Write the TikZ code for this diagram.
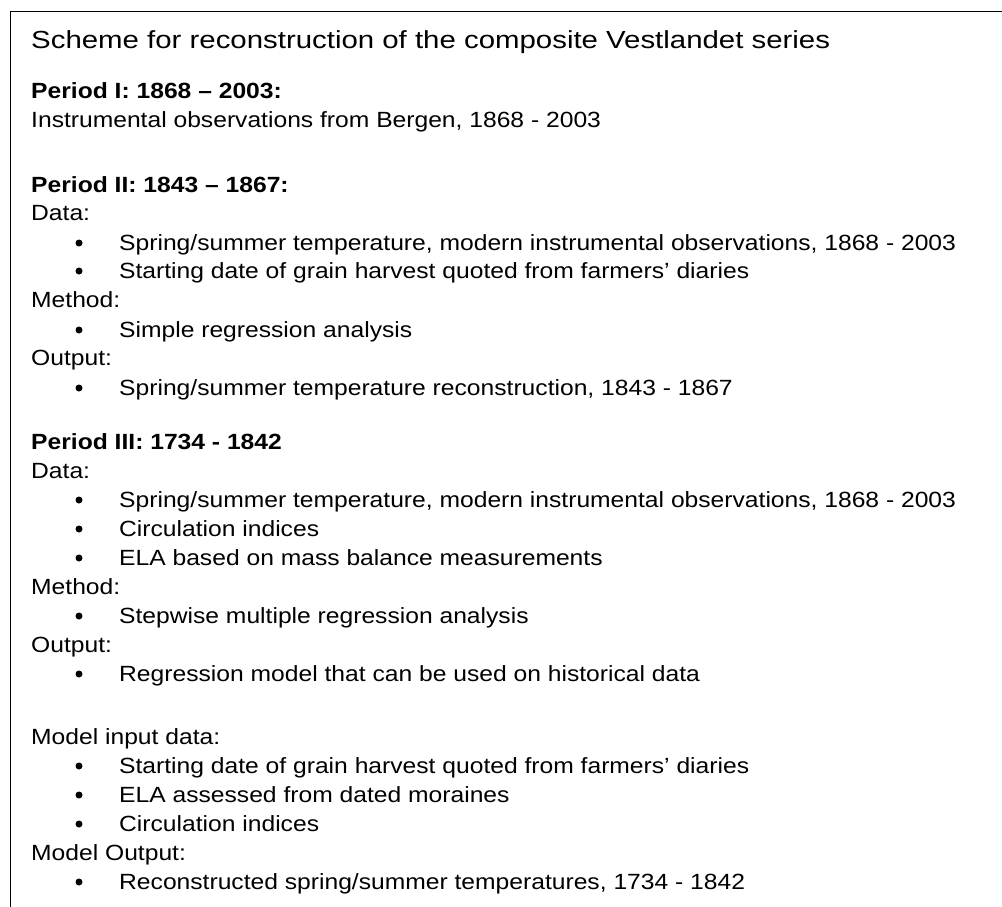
\documentclass[tikz,border=0pt]{standalone}
\usepackage{fontspec}
\setmainfont{Liberation Sans}
\newfontfamily\bodyfont[FakeStretch=1.12]{Liberation Sans}
\newfontfamily\titlefont[FakeStretch=1.19]{Liberation Sans}
\begin{document}
\begin{tikzpicture}[x=1pt,y=-1pt,
  txt/.style={anchor=base west, inner sep=0pt, font=\bodyfont\fontsize{22}{26}\selectfont},
  hd/.style={anchor=base west, inner sep=0pt, font=\bodyfont\bfseries\fontsize{22}{26}\selectfont},
  ttl/.style={anchor=base west, inner sep=0pt, font=\titlefont\fontsize{24.7}{29}\selectfont},
  bul/.style={circle, fill=black, inner sep=0pt, minimum size=7pt},
  frame/.style={line width=1.6pt}]
\useasboundingbox (0,0) rectangle (1002,907);
\draw[frame] (10.5,907) -- (10.5,11.5) -- (1002,11.5);
\def\lx{31}\def\bx{79}\def\tx{119}
\node[ttl] (title) at (\lx,49) {Scheme for reconstruction of the composite Vestlandet series};
\node[hd] (p1) at (\lx,99) {Period I: 1868 – 2003:};
\node[txt] (p1t) at (\lx,128) {Instrumental observations from Bergen, 1868 - 2003};
\node[hd] (p2) at (\lx,192) {Period II: 1843 – 1867:};
\node[txt] (p2d) at (\lx,220) {Data:};
\node[bul] (p2b1) at (\bx,243) {};
\node[txt] (p2d1) at (\tx,250) {Spring/summer temperature, modern instrumental observations, 1868 - 2003};
\node[bul] (p2b2) at (\bx,271) {};
\node[txt] (p2d2) at (\tx,278) {Starting date of grain harvest quoted from farmers’ diaries};
\node[txt] (p2m) at (\lx,307) {Method:};
\node[bul] (p2b3) at (\bx,330) {};
\node[txt] (p2m1) at (\tx,337) {Simple regression analysis};
\node[txt] (p2o) at (\lx,365) {Output:};
\node[bul] (p2b4) at (\bx,388) {};
\node[txt] (p2o1) at (\tx,395) {Spring/summer temperature reconstruction, 1843 - 1867};
\node[hd] (p3) at (\lx,449) {Period III: 1734 - 1842};
\node[txt] (p3d) at (\lx,478) {Data:};
\node[bul] (p3b1) at (\bx,500) {};
\node[txt] (p3d1) at (\tx,507) {Spring/summer temperature, modern instrumental observations, 1868 - 2003};
\node[bul] (p3b2) at (\bx,529) {};
\node[txt] (p3d2) at (\tx,536) {Circulation indices};
\node[bul] (p3b3) at (\bx,558) {};
\node[txt] (p3d3) at (\tx,565) {ELA based on mass balance measurements};
\node[txt] (p3m) at (\lx,594) {Method:};
\node[bul] (p3b4) at (\bx,616) {};
\node[txt] (p3m1) at (\tx,623) {Stepwise multiple regression analysis};
\node[txt] (p3o) at (\lx,652) {Output:};
\node[bul] (p3b5) at (\bx,674) {};
\node[txt] (p3o1) at (\tx,681) {Regression model that can be used on historical data};
\node[txt] (mi) at (\lx,744) {Model input data:};
\node[bul] (mb1) at (\bx,766) {};
\node[txt] (mi1) at (\tx,773) {Starting date of grain harvest quoted from farmers’ diaries};
\node[bul] (mb2) at (\bx,795) {};
\node[txt] (mi2) at (\tx,802) {ELA assessed from dated moraines};
\node[bul] (mb3) at (\bx,824) {};
\node[txt] (mi3) at (\tx,831) {Circulation indices};
\node[txt] (mo) at (\lx,860) {Model Output:};
\node[bul] (mb4) at (\bx,882) {};
\node[txt] (mo1) at (\tx,889) {Reconstructed spring/summer temperatures, 1734 - 1842};
\end{tikzpicture}
\end{document}
